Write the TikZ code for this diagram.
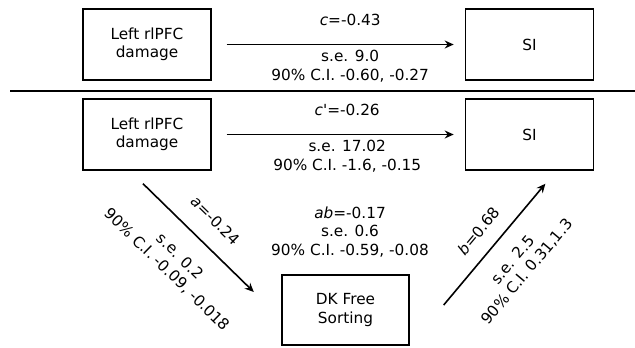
\documentclass[tikz,border=0pt]{standalone}
\usepackage{fontspec}
\setmainfont{DejaVu Sans}
\usetikzlibrary{positioning, arrows.meta}
\tikzstyle{box} = [draw, line width=1.4pt, minimum width=128pt, minimum height=71pt, align=center, inner sep=0pt]
\tikzstyle{arrow} = [line width=1.6pt, -{Stealth[length=9pt, width=8pt]}]
\tikzstyle{lbl} = [inner sep=0pt, align=center]

\begin{document}
\begin{tikzpicture}[x=1pt, y=-1pt, font=\fontsize{15.3}{18.5}\selectfont]
\useasboundingbox (0,0) rectangle (635,348);

% total effect
\node (dmg1) [box] at (147,44.5) {Left rlPFC\\damage};
\node (si1) [box, right=253pt of dmg1] {SI};
\draw [arrow, shorten <=15pt, shorten >=11pt] (dmg1) -- (si1)
    node [lbl, midway, above=18pt, xshift=12pt] {\textit{c}=-0.43}
    node [lbl, midway, below=5pt, xshift=12pt] {s.e. 9.0\\90\% C.I. -0.60, -0.27};

\draw [line width=2pt] (10,90.5) -- (635,90.5);

% mediation model
\node (dmg2) [box] at (147,134.5) {Left rlPFC\\damage};
\node (si2) [box, right=253pt of dmg2] {SI};
\node (dk) [box, minimum width=127pt, minimum height=70pt] at (345.5,310) {DK Free\\Sorting};

\coordinate (a0) at ([xshift=-4pt, yshift=-13pt]dmg2.south);
\coordinate (a1) at ([xshift=-27.5pt, yshift=18pt]dk.west);
\coordinate (b0) at ([xshift=34pt, yshift=5pt]dk.east);
\coordinate (b1) at ([xshift=16pt, yshift=-13pt]si2.south);

\draw [arrow, shorten <=15pt, shorten >=11pt] (dmg2) -- (si2)
    node [lbl, midway, above=18pt, xshift=9pt] {\textit{c}\textquotesingle=-0.26}
    node [lbl, midway, below=5pt, xshift=9pt] {s.e. 17.02\\90\% C.I. -1.6, -0.15};
\draw [arrow] (a0) -- (a1)
    node [lbl, midway, sloped, above=18pt] {\textit{a}=-0.24}
    node [lbl, midway, sloped, below=19pt] {s.e. 0.2\\90\% C.I. -0.09, -0.018};
\draw [arrow] (b0) -- (b1)
    node [lbl, midway, sloped, above=14pt] {\textit{b}=0.68}
    node [lbl, midway, sloped, below=17pt] {s.e. 2.5\\90\% C.I. 0.31,1.3};

\node (ab) [lbl] at (350,232) {\textit{ab}=-0.17\\s.e. 0.6\\90\% C.I. -0.59, -0.08};
\end{tikzpicture}
\end{document}
